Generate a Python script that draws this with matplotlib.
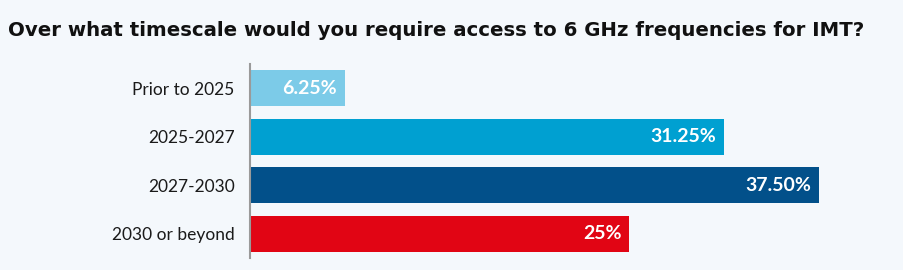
import matplotlib.pyplot as plt

categories = ["Prior to 2025", "2025-2027", "2027-2030", "2030 or beyond"]
values = [6.25, 31.25, 37.50, 25]
labels = ["6.25%", "31.25%", "37.50%", "25%"]
colors = ["#7ccbe8", "#00a0d1", "#02508a", "#e10514"]

bg = "#f4f8fc"
W, H = 904, 270
fig = plt.figure(figsize=(W / 100, H / 100), dpi=100, facecolor=bg)

# axes placed in pixel terms: left edge at x=250, 15.17 px per percent
left, right = 250, 880
top, bottom = 64, 258
ax = fig.add_axes([left / W, 1 - bottom / H, (right - left) / W, (bottom - top) / H])
ax.set_facecolor(bg)

y = list(range(len(categories)))
ax.barh(y, values, height=0.74, color=colors, zorder=2)
ax.set_xlim(0, (right - left) / 15.17)
ax.set_ylim(len(categories) - 0.5, -0.5)

for yi, v, lab in zip(y, values, labels):
    ax.text(v - 0.5, yi, lab, ha="right", va="center", color="white",
            fontsize=14, fontweight="bold", family="Lato")

ax.set_yticks(y)
ax.set_yticklabels(categories, fontsize=12.5, family="Lato", color="#1a1a1a")
ax.tick_params(axis="y", length=0, pad=11)
ax.set_xticks([])
for s in ["top", "right", "bottom"]:
    ax.spines[s].set_visible(False)
ax.spines["left"].set_color("#9a9a9a")
ax.spines["left"].set_linewidth(1.5)

fig.text(8 / W, 1 - 31 / H, "Over what timescale would you require access to 6 GHz frequencies for IMT?",
         ha="left", va="center", fontsize=14.25, fontweight="bold", family="DejaVu Sans", color="#111111")

fig.savefig("out.png", dpi=100, facecolor=bg)
